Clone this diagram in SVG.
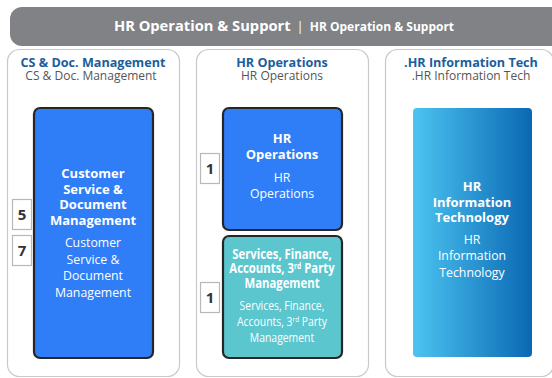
<svg xmlns="http://www.w3.org/2000/svg" width="552" height="378" viewBox="0 0 552 378">
<defs>
<linearGradient id="g1" x1="0" y1="0" x2="1" y2="0">
<stop offset="0" stop-color="#4cc4f1"/>
<stop offset="1" stop-color="#0a68b3"/>
</linearGradient>
</defs>
<style>
text{font-family:"Open Sans","Noto Sans",sans-serif;text-anchor:middle}
.col{fill:#fff;stroke:#c9c9c9;stroke-width:1.2}
.ct{font-weight:bold;font-size:12.6px;fill:#1c5d9c}
.cs{font-size:12px;fill:#555}
.node{stroke:#262626;stroke-width:2.2}
.b{font-weight:bold;font-size:13px;fill:#fff}
.n{font-size:12.3px;fill:#fff}
.badge rect{fill:#fff;stroke:#b8b8b8;stroke-width:1.2}
.badge text{font-weight:bold;font-size:15px;fill:#333}
</style>
<rect width="552" height="378" fill="#fff"/>
<g id="header">
<rect x="10" y="7" width="560" height="39" rx="12" fill="#808285"/>
<text x="284" y="31" fill="#fff"><tspan font-weight="bold" font-size="14.7px">HR Operation &amp; Support</tspan><tspan font-size="13px" dx="6">|</tspan><tspan font-weight="bold" font-size="12px" dx="6">HR Operation &amp; Support</tspan></text>
</g>
<g id="col-cs">
<rect class="col" x="7.5" y="49.5" width="172" height="327" rx="12"/>
<text class="ct" x="93" y="67">CS &amp; Doc. Management</text>
<text class="cs" x="91" y="80">CS &amp; Doc. Management</text>
</g>
<g id="col-ops">
<rect class="col" x="196.5" y="49.5" width="172" height="327" rx="12"/>
<text class="ct" x="282" y="67">HR Operations</text>
<text class="cs" x="282" y="80">HR Operations</text>
</g>
<g id="col-it">
<rect class="col" x="385.5" y="49.5" width="168" height="327" rx="12"/>
<text class="ct" x="471" y="67">.HR Information Tech</text>
<text class="cs" x="471" y="80">.HR Information Tech</text>
</g>
<g id="node-cs">
<rect class="node" x="34" y="108" width="119" height="250" rx="6" fill="#2f7df7"/>
<text class="b"><tspan x="93" y="178">Customer</tspan><tspan x="93" y="193.5">Service &amp;</tspan><tspan x="93" y="209">Document</tspan><tspan x="93" y="224.5">Management</tspan></text>
<text class="n"><tspan x="93" y="247">Customer</tspan><tspan x="93" y="263.5">Service &amp;</tspan><tspan x="93" y="280">Document</tspan><tspan x="93" y="296.5">Management</tspan></text>
</g>
<g id="node-hrops">
<rect class="node" x="223" y="108" width="119" height="122" rx="6" fill="#2f7df7"/>
<text class="b"><tspan x="282" y="143">HR</tspan><tspan x="282" y="159">Operations</tspan></text>
<text class="n"><tspan x="282" y="182">HR</tspan><tspan x="282" y="198">Operations</tspan></text>
</g>
<g id="node-services">
<rect class="node" x="223" y="236" width="119" height="122" rx="6" fill="#5bc6ce"/>
<g transform="translate(282,0) scale(0.84,1)">
<text class="b" font-size="13.5px" style="font-size:13.5px"><tspan x="0" y="259">Services, Finance,</tspan><tspan x="0" y="273.5">Accounts, 3<tspan font-size="8px" style="font-size:8px" dy="-4.5">rd</tspan><tspan dy="4.5"> Party</tspan></tspan><tspan x="0" y="288">Management</tspan></text>
</g>
<g transform="translate(282,0) scale(0.8,1)">
<text class="n" style="font-size:13px"><tspan x="0" y="310">Services, Finance,</tspan><tspan x="0" y="326.5">Accounts, 3<tspan style="font-size:8px" dy="-4.5">rd</tspan><tspan dy="4.5"> Party</tspan></tspan><tspan x="0" y="342.5">Management</tspan></text>
</g>
</g>
<g id="node-it">
<rect x="413" y="108" width="119" height="249" rx="4" fill="url(#g1)"/>
<text class="b"><tspan x="472" y="191">HR</tspan><tspan x="472" y="207">Information</tspan><tspan x="472" y="222">Technology</tspan></text>
<text class="n"><tspan x="472" y="244">HR</tspan><tspan x="472" y="260">Information</tspan><tspan x="472" y="277">Technology</tspan></text>
</g>
<g id="badges">
<g class="badge"><rect x="12.5" y="199.5" width="19" height="30"/><text x="22" y="220">5</text></g>
<g class="badge"><rect x="12.5" y="235.5" width="19" height="30"/><text x="22" y="256">7</text></g>
<g class="badge"><rect x="200.5" y="153.5" width="19" height="30"/><text x="210" y="174">1</text></g>
<g class="badge"><rect x="200.5" y="282.5" width="19" height="30"/><text x="210" y="303">1</text></g>
</g>
<g id="connectors"/>
</svg>
